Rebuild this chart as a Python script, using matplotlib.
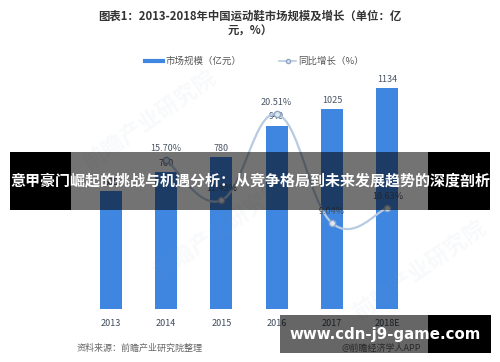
import matplotlib
matplotlib.use("Agg")
import matplotlib.pyplot as plt
from matplotlib.patches import Rectangle
from matplotlib.lines import Line2D
from matplotlib.path import Path
from matplotlib.patches import PathPatch

plt.rcParams['font.family'] = ['Noto Sans CJK SC', 'DejaVu Sans']

years = ['2013', '2014', '2015', '2016', '2017', '2018E']
market = [605, 700, 780, 940, 1025, 1134]
growth_years = [1, 2, 3, 4, 5]
growth = [15.70, 11.43, 20.51, 9.04, 10.63]
growth_labels = ['15.70%', '11.43%', '20.51%', '9.04%', '10.63%']

bar_color = '#3f86e0'
line_color = '#b7cbe2'
text_color = '#4a5566'

W, H = 500, 362


def fx(px):
    return px / W


def fy(py):
    return 1 - py / H


fig = plt.figure(figsize=(5, 3.62), dpi=100)
fig.patch.set_facecolor('white')

ax = fig.add_axes([fx(83), fy(309), (415 - 83) / W, (309 - 80) / H])
ax2 = ax.twinx()

x = list(range(len(years)))
ax.bar(x, market, width=0.4, color=bar_color, zorder=2)
for i, v in enumerate(market):
    ax.annotate(str(v), (i, v), xytext=(0, 3), textcoords='offset points',
                ha='center', va='bottom', fontsize=6.5, color=text_color)

ax.set_xlim(-0.5, 5.5)
ax.set_ylim(0, 1174)
ax2.set_ylim(0, 24.1)

# smooth growth curve (cubic bezier through the data points)
pts = list(zip(growth_years, growth))
verts = [pts[0]]
codes = [Path.MOVETO]
k = 5.0
for i in range(len(pts) - 1):
    p0 = pts[i - 1] if i > 0 else pts[i]
    p1 = pts[i]
    p2 = pts[i + 1]
    p3 = pts[i + 2] if i + 2 < len(pts) else pts[i + 1]
    c1 = (p1[0] + (p2[0] - p0[0]) / k, p1[1] + (p2[1] - p0[1]) / k)
    c2 = (p2[0] - (p3[0] - p1[0]) / k, p2[1] - (p3[1] - p1[1]) / k)
    verts += [c1, c2, p2]
    codes += [Path.CURVE4] * 3
ax2.add_patch(PathPatch(Path(verts, codes), fill=False, edgecolor=line_color,
                        lw=1.6, zorder=3))
ax2.plot(growth_years, growth, linestyle='none', marker='o', markersize=4.5,
         markerfacecolor='#dfe7f1', markeredgecolor='#8ea7c6', zorder=4)
for xi, g, lab in zip(growth_years, growth, growth_labels):
    ax2.annotate(lab, (xi, g), xytext=(0, 5), textcoords='offset points',
                 ha='center', va='bottom', fontsize=6.5, color=text_color)

for a in (ax, ax2):
    for s in a.spines.values():
        s.set_visible(False)
    a.set_yticks([])
ax.set_xticks(x)
ax.set_xticklabels(years, fontsize=6.5, color='#3d4b5c')
ax.tick_params(axis='x', length=0, pad=7)

# watermark
for (wx, wy) in [(150, 120), (220, 230), (420, 270)]:
    fig.text(fx(wx), fy(wy), '前瞻产业研究院', rotation=35, fontsize=16,
             color='#8aa0b8', alpha=0.06, ha='center', va='center',
             fontweight='bold', zorder=0.5)

# title
fig.text(0.5, fy(16), '图表1：2013-2018年中国运动鞋市场规模及增长（单位：亿',
         ha='center', va='center', fontsize=8.2, fontweight='bold',
         color='#333333')
fig.text(0.5, fy(31), '元，%）', ha='center', va='center', fontsize=8.2,
         fontweight='bold', color='#333333')

# legend
fig.add_artist(Line2D([fx(145), fx(163)], [fy(61), fy(61)], lw=3,
                      color=bar_color, transform=fig.transFigure))
fig.text(fx(165), fy(61), '市场规模（亿元）', ha='left', va='center',
         fontsize=6.8, color='#555555')
fig.add_artist(Line2D([fx(279), fx(296)], [fy(61), fy(61)], lw=1.2,
                      color=line_color, transform=fig.transFigure))
fig.add_artist(Line2D([fx(287.5)], [fy(61)], marker='o', markersize=3,
                      markerfacecolor='#dfe7f1', markeredgecolor='#8ea7c6',
                      transform=fig.transFigure))
fig.text(fx(298), fy(61), '同比增长（%）', ha='left', va='center',
         fontsize=6.8, color='#555555')

# footer
fig.text(fx(77), fy(348), '资料来源：前瞻产业研究院整理', ha='left', va='center',
         fontsize=6.5, color='#666666', style='italic')
fig.text(fx(381), fy(348), '@前瞻经济学人APP', ha='center', va='center',
         fontsize=6.5, color='#666666')

# overlay banners
fig.add_artist(Rectangle((fx(10), fy(210)), (490 - 10) / W, (210 - 152) / H,
                         transform=fig.transFigure, color='black', alpha=0.55,
                         lw=0, zorder=5))
fig.add_artist(Rectangle((fx(10), fy(210)), (71 - 10) / W, (210 - 152) / H,
                         transform=fig.transFigure, color='black', lw=0,
                         zorder=5))
fig.add_artist(Rectangle((fx(428), fy(210)), (490 - 428) / W, (210 - 152) / H,
                         transform=fig.transFigure, color='black', lw=0,
                         zorder=5))
fig.text(0.5, fy(180), '意甲豪门崛起的挑战与机遇分析：从竞争格局到未来发展趋势的深度剖析',
         ha='center', va='center', fontsize=10.8, fontweight='bold',
         color='white', zorder=6)

fig.add_artist(Rectangle((fx(280), fy(353)), (491 - 280) / W, (353 - 315) / H,
                         transform=fig.transFigure, color='black', alpha=0.6,
                         lw=0, zorder=5))
fig.add_artist(Rectangle((fx(428), fy(353)), (491 - 428) / W, (353 - 315) / H,
                         transform=fig.transFigure, color='black', lw=0,
                         zorder=5))
fig.text(fx(385), fy(335), 'www.cdn-j9-game.com', ha='center', va='center',
         fontsize=10.8, fontweight='bold', color='white', zorder=6,
         family='DejaVu Sans')

fig.savefig('out.png', dpi=100)
